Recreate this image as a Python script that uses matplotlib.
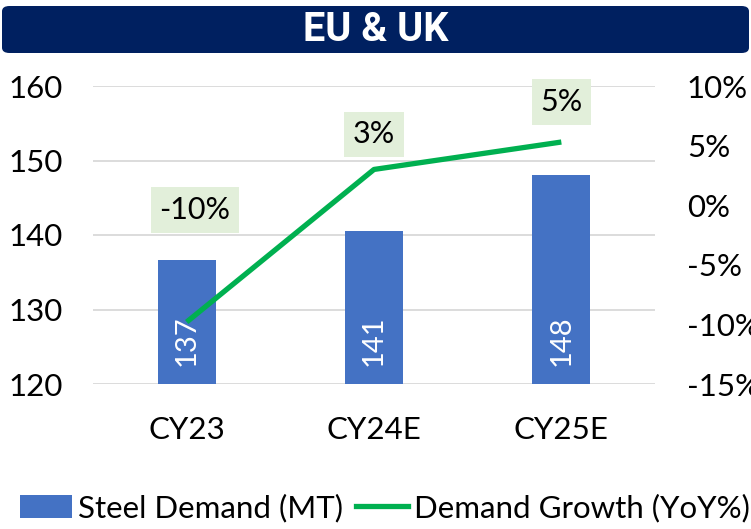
import matplotlib.pyplot as plt
from matplotlib.patches import FancyBboxPatch
from matplotlib.lines import Line2D
from matplotlib.patches import Patch

categories = ["CY23", "CY24E", "CY25E"]
steel_demand = [136.7, 140.6, 148.1]
demand_growth = [-9.8, 3.0, 5.3]
growth_labels = ["-10%", "3%", "5%"]
left_ticks = [120, 130, 140, 150, 160]
right_ticks = [-15, -10, -5, 0, 5, 10]

BAR = "#4472C4"
LINE = "#00B050"
NAVY = "#002060"
FONT = ["Lato", "DejaVu Sans"]
FS = 22.5


def main():
    plt.rcParams["font.family"] = FONT
    fig = plt.figure(figsize=(7.51, 5.29), dpi=100)
    W, H = 751, 529

    # title banner
    banner = FancyBboxPatch((2 / W, 1 - 53 / H), 747 / W, 47 / H,
                            boxstyle="round,pad=0,rounding_size=0.01",
                            transform=fig.transFigure, facecolor=NAVY,
                            edgecolor="none")
    fig.patches.append(banner)
    fig.text(0.5, 1 - 30 / H, "EU & UK", color="white", ha="center",
             va="center", fontsize=28.5, fontweight="bold",
             family=["Roboto", "DejaVu Sans"])

    ax = fig.add_axes([93 / W, 1 - 384 / H, 562 / W, 298 / H])
    x = range(len(categories))
    ax.bar(x, steel_demand, width=0.31, color=BAR, zorder=2)
    ax.set_ylim(120, 160)
    ax.set_xlim(-0.5, 2.5)
    ax.set_yticks(left_ticks)
    ax.set_xticks(list(x))
    ax.set_xticklabels(categories)
    ax.grid(axis="y", color="#D9D9D9", linewidth=1.3, zorder=0)
    for s in ax.spines.values():
        s.set_visible(False)
    ax.tick_params(axis="both", length=0, labelsize=FS, colors="black")
    ax.tick_params(axis="y", pad=22)
    ax.tick_params(axis="x", pad=23)

    for i, v in enumerate(steel_demand):
        ax.text(i, 120 + 2.4, f"{v:.0f}", rotation=90, color="white",
                ha="center", va="bottom", fontsize=21, zorder=4)

    ax2 = ax.twinx()
    ax2.set_ylim(-15, 10)
    ax2.set_yticks(right_ticks)
    ax2.set_yticklabels([f"{t}%" for t in right_ticks])
    for s in ax2.spines.values():
        s.set_visible(False)
    ax2.tick_params(axis="y", length=0, labelsize=FS, pad=23)
    ax2.plot(list(x), demand_growth, color=LINE, linewidth=3.8,
             solid_capstyle="butt", zorder=3)

    # label placement (pixels): first label sits higher, clear of the bar
    offsets = [(8, 112), (0, 35), (0, 40)]
    for i, (v, lab) in enumerate(zip(demand_growth, growth_labels)):
        dx, dy = offsets[i]
        ax2.annotate(lab, (i, v), xytext=(dx * 0.72, dy * 0.72),
                     textcoords="offset points", ha="center", va="center",
                     fontsize=22,
                     bbox=dict(boxstyle="square,pad=0.28", fc="#E2EFDA",
                               ec="none"))

    handles = [Patch(facecolor=BAR, edgecolor="none"),
               Line2D([0], [0], color=LINE, linewidth=3.8)]
    fig.legend(handles, ["Steel Demand (MT)", "Demand Growth (YoY%)"],
               loc="center left", bbox_to_anchor=(20 / W, 1 - 508 / H),
               ncol=2, frameon=False, fontsize=FS, handlelength=1.66,
               handleheight=0.75, handletextpad=0.2, columnspacing=0.4,
               borderaxespad=0, borderpad=0)

    fig.savefig("out.png", dpi=100)


if __name__ == "__main__":
    main()
